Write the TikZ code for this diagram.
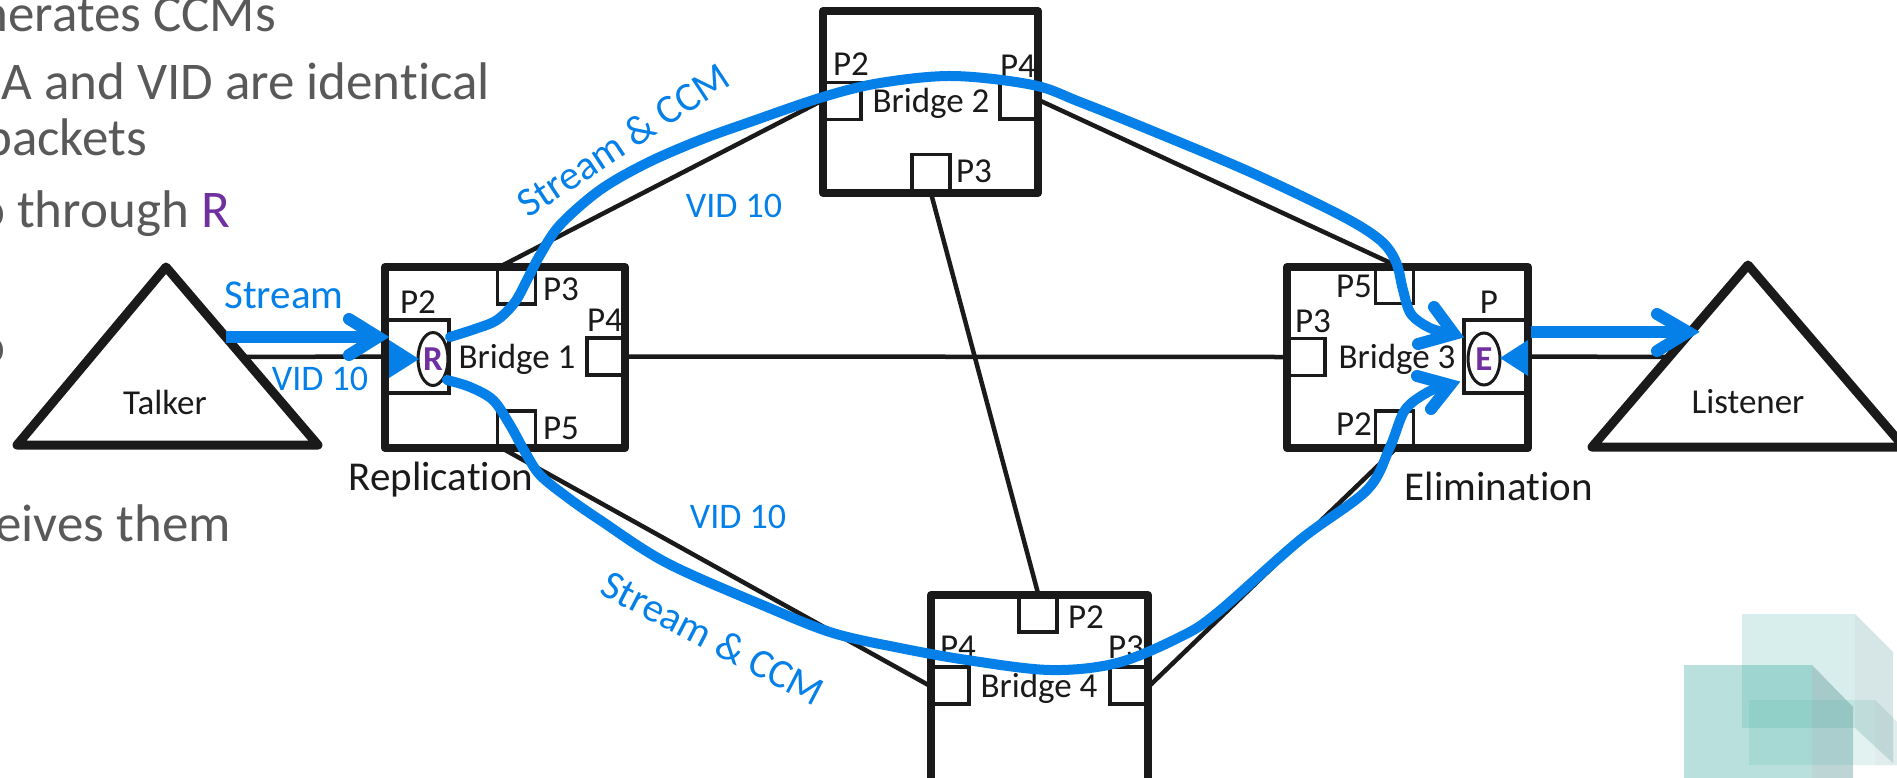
\documentclass[tikz,border=0pt]{standalone}
\usepackage{fontspec}
\setmainfont{Carlito}[Ligatures=NoCommon]
\usetikzlibrary{shapes.geometric}
\definecolor{blk}{HTML}{1A1A1A}
\definecolor{sblue}{RGB}{4,128,232}
\definecolor{purp}{HTML}{7030A0}
\definecolor{gtxt}{HTML}{595959}
\definecolor{tealc}{RGB}{60,170,160}
\definecolor{tealg}{RGB}{90,150,150}
\begin{document}
\begin{tikzpicture}[x=1pt,y=-1pt,
  bridge/.style={rectangle, draw=blk, line width=8pt, fill=white, inner sep=0pt, line join=round},
  port/.style={rectangle, draw=blk, line width=3.5pt, inner sep=0pt, minimum width=38pt, minimum height=37pt},
  bigport/.style={port, minimum width=64pt, minimum height=73pt},
  link/.style={draw=blk, line width=4.5pt},
  tri/.style={draw=blk, line width=9pt, line join=round},
  ell/.style={ellipse, draw=blk, line width=3pt, fill=white, inner sep=0pt, minimum width=30pt, minimum height=53pt, text=purp, font=\fontsize{35}{40}\selectfont\bfseries},
  plbl/.style={font=\fontsize{35}{42}\selectfont, text=blk, inner sep=0pt, anchor=base},
  caption/.style={font=\fontsize{41}{49}\selectfont, text=blk, inner sep=0pt, anchor=base},
  blbl/.style={font=\fontsize{41}{49}\selectfont, text=sblue, inner sep=0pt},
  vid/.style={font=\fontsize{36}{43}\selectfont, text=sblue, inner sep=0pt, anchor=base},
  graytxt/.style={font=\fontsize{53}{63}\selectfont, text=gtxt, inner sep=0pt, anchor=base east},
  bpath/.style={draw=sblue, line width=10pt, line cap=round, line join=round},
  chev/.style={draw=sblue, line width=12pt, line cap=round, line join=miter},
]
\useasboundingbox (0,0) rectangle (1897,777);
\clip (0,0) rectangle (1897,777);

% decorative teal shapes
\fill[tealc, opacity=0.2] (1742,614) rectangle (1855,728);
\fill[tealg, opacity=0.25] (1855,614) -- (1893,652) -- (1893,763) -- (1855,728) -- cycle;
\fill[tealc, opacity=0.36] (1684,665) rectangle (1812,780);
\fill[tealg, opacity=0.4] (1812,665) -- (1853,707) -- (1853,780) -- (1812,780) -- cycle;
\fill[tealc, opacity=0.15] (1749,700) rectangle (1875,765);
\fill[tealg, opacity=0.18] (1875,700) -- (1897,722) -- (1897,765) -- (1875,765) -- cycle;

% gray slide text (cut at the left edge)
\node[graytxt] (g1) at (276,31) {nerates CCMs};
\node[graytxt] (g2) at (490,99) {A and VID are identical};
\node[graytxt] (g3) at (147,155) {packets};
\node[graytxt] (g4) at (230,227) {o through \textcolor{purp}{R}};
\node[graytxt] (g5) at (6,363) {o};
\node[graytxt] (g6) at (231,541) {eives them};

% talker and listener
\draw[tri] (17,445) -- (166,267) -- (318,445) -- cycle;
\draw[tri] (1592,447) -- (1748,265) -- (1904,447) -- cycle;
\node[plbl] (talker) at (165,414) {Talker};
\node[plbl] (listener) at (1748,413) {Listener};
\coordinate (talkerR) at (243,357);
\coordinate (listL) at (1669,357);

% bridges
\node[bridge, minimum width=240pt, minimum height=181pt] (b1) at (505,357.5) {};
\node[bridge, minimum width=215pt, minimum height=182pt] (b2) at (930.5,102) {};
\node[bridge, minimum width=241pt, minimum height=181pt] (b3) at (1407.5,357.5) {};
\node[bridge, minimum width=217pt, minimum height=190pt] (b4) at (1039.5,690) {};

% ports
\node[bigport] (b1p2) at (417,356.5) {};
\node[port] (b1p3) at (516.5,285.5) {};
\node[port] (b1p4) at (606,356.5) {};
\node[port] (b1p5) at (516.5,429.5) {};
\node[port] (b2p2) at (842,101) {};
\node[port] (b2p4) at (1019,100.5) {};
\node[port] (b2p3) at (931,173) {};
\node[port] (b3p5) at (1394.5,285) {};
\node[port] (b3p3) at (1306,357) {};
\node[bigport] (b3p) at (1496,356.5) {};
\node[port] (b3p2) at (1394.5,429.5) {};
\node[port] (b4p2) at (1038,613.5) {};
\node[port] (b4p4) at (950,685.5) {};
\node[port] (b4p3) at (1129,685.5) {};

% links
\draw[link] (talkerR) -- (b1p2.west);
\draw[link] (b1p4.east) -- (b3p3.west);
\draw[link] (b3p.east) -- (listL);
\draw[link] ([xshift=7pt]b1p3.north west) -- (b2p2.west);
\draw[link] ([xshift=9pt]b1p5.south west) -- (b4p4.west);
\draw[link] (b2p4.east) -- (b3p5.north);
\draw[link] (b2p3.south) -- (b4p2.north);
\draw[link] (b4p3.east) -- (b3p2.south);

% labels
\node[plbl] (t1) at (517,368) {Bridge 1};
\node[plbl] (t2) at (931,112) {Bridge 2};
\node[plbl] (t3) at (1397,368) {Bridge 3};
\node[plbl] (t4) at (1039,697) {Bridge 4};
\node[plbl] (l1p2) at (418,313) {P2};
\node[plbl] (l1p3) at (561,300) {P3};
\node[plbl] (l1p4) at (605,331) {P4};
\node[plbl] (l1p5) at (561,439) {P5};
\node[plbl] (l2p2) at (851,75) {P2};
\node[plbl] (l2p4) at (1018,77) {P4};
\node[plbl] (l2p3) at (974,182) {P3};
\node[plbl] (l3p5) at (1354,297) {P5};
\node[plbl] (l3p3) at (1313,332) {P3};
\node[plbl] (l3p) at (1489,313) {P};
\node[plbl] (l3p2) at (1354,435) {P2};
\node[plbl] (l4p2) at (1086,628) {P2};
\node[plbl] (l4p4) at (958,658) {P4};
\node[plbl] (l4p3) at (1126,658) {P3};
\node[caption] (repl) at (441,490) {Replication};
\node[caption] (elim) at (1499,500) {Elimination};

% R and E functions
\node[ell] (R) at (433,359) {R};
\node[ell, minimum width=32pt, minimum height=52pt] (E) at (1484,359) {E};

% blue streams
\draw[bpath] plot[smooth, tension=0.55] coordinates {(450,337) (475,329) (497,320) (515,302) (528,278) (540,255) (560,225) (600,190) (647,163) (700,140) (750,122) (823,97) (880,83) (953,76) (1033,85) (1080,102) (1150,130) (1250,172) (1340,215) (1380,240) (1396,262) (1403,290) (1411,314) (1430,328) (1452,334)};
\draw[bpath] plot[smooth, tension=0.55] coordinates {(447,380) (470,387) (493,400) (510,425) (525,452) (540,475) (567,497) (600,520) (667,563) (767,607) (833,633) (900,648) (967,660) (1050,670) (1117,663) (1180,637) (1217,613) (1300,540) (1367,490) (1390,447) (1405,410) (1428,392) (1448,385)};
\draw[chev] (1434,307) -- (1454,334) -- (1418,344);
\draw[chev] (1417,376) -- (1450,385) -- (1431,409);

% talker arrow
\draw[draw=sblue, line width=12pt] (226,337) -- (376,337);
\draw[chev] (349,319) -- (378,337) -- (349,355);
\fill[sblue] (389,340) -- (419,359) -- (389,378) -- cycle;

% listener arrow
\draw[draw=sblue, line width=12pt] (1531,332) -- (1686,332);
\draw[chev] (1657,314) -- (1688,332) -- (1657,351);
\fill[sblue] (1528,340) -- (1500,358) -- (1528,376) -- cycle;

% blue labels
\node[blbl, anchor=base] (sl) at (284,308) {Stream};
\node[vid] (v1) at (320,390) {VID 10};
\node[vid] (v2) at (734,217) {VID 10};
\node[vid] (v3) at (738,528) {VID 10};
\node[blbl, rotate=33.4] (sc1) at (623,140) {Stream \& CCM};
\node[blbl, rotate=-27.5] (sc2) at (713,638) {Stream \& CCM};
\end{tikzpicture}
\end{document}
